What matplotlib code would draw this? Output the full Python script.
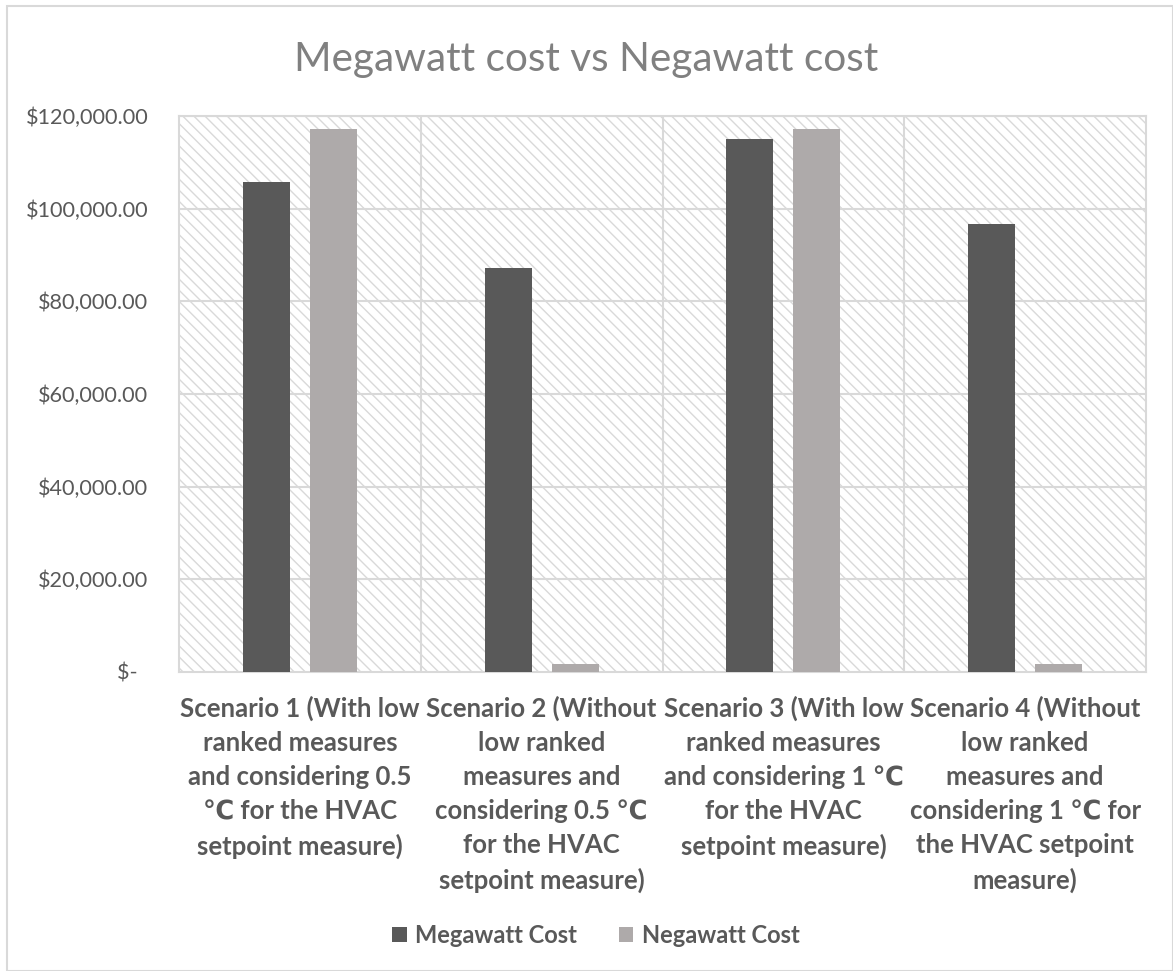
import numpy as np
import matplotlib
matplotlib.use("Agg")
import matplotlib.pyplot as plt
from matplotlib.patches import Rectangle

# chart data
scenarios = [
    "Scenario 1 (With low\nranked measures\nand considering 0.5\n\u2103 for the HVAC\nsetpoint measure)",
    "Scenario 2 (Without\nlow ranked\nmeasures and\nconsidering 0.5 \u2103\nfor the HVAC\nsetpoint measure)",
    "Scenario 3 (With low\nranked measures\nand considering 1 \u2103\nfor the HVAC\nsetpoint measure)",
    "Scenario 4 (Without\nlow ranked\nmeasures and\nconsidering 1 \u2103 for\nthe HVAC setpoint\nmeasure)",
]
megawatt_cost = [105800, 87300, 115100, 96800]
negawatt_cost = [117200, 1700, 117200, 1700]
series_names = ["Megawatt Cost", "Negawatt Cost"]
yticks = [0, 20000, 40000, 60000, 80000, 100000, 120000]

DARK = "#595959"
LIGHT = "#AEAAAA"
GRID = "#D9D9D9"
TEXT = "#595959"

plt.rcParams["font.family"] = ["Lato", "DejaVu Sans"]
plt.rcParams["hatch.color"] = GRID
plt.rcParams["hatch.linewidth"] = 1.0

fig = plt.figure(figsize=(11.73, 9.71), dpi=100)
ax = fig.add_axes([0.1526, 0.308, 0.977 - 0.1526, 0.8805 - 0.308])

# outer chart frame
fig.patches.append(Rectangle((0.006, 0.0), 0.994, 0.994, transform=fig.transFigure,
                             fill=False, edgecolor=GRID, linewidth=1.5))

# hatched plot area
ax.add_patch(Rectangle((0, 0), 1, 1, transform=ax.transAxes, facecolor="white",
                       edgecolor=GRID, hatch="\\\\\\", linewidth=0, zorder=0))

x = np.arange(len(scenarios))
w = 0.195
off = 0.1385
ax.bar(x - off, megawatt_cost, w, color=DARK, label=series_names[0], zorder=3)
ax.bar(x + off, negawatt_cost, w, color=LIGHT, label=series_names[1], zorder=3)

ax.set_xlim(-0.5, len(scenarios) - 0.5)
ax.set_ylim(0, 120000)

# gridlines
for yv in yticks[1:]:
    ax.axhline(yv, color=GRID, lw=1.5, zorder=1)
for xv in x[:-1] + 0.5:
    ax.axvline(xv, color=GRID, lw=1.5, zorder=1)
for s in ax.spines.values():
    s.set_color(GRID)
    s.set_linewidth(1.5)

ax.set_yticks(yticks)
ax.set_yticklabels(["$-  " if v == 0 else f"${v:,.2f}" for v in yticks])
ax.tick_params(axis="y", length=0, pad=22, labelsize=15.6, labelcolor=TEXT)

ax.set_xticks(x)
ax.set_xticklabels(scenarios, fontweight="bold", linespacing=1.5)
ax.tick_params(axis="x", length=0, pad=17, labelsize=18.5, labelcolor=TEXT)

fig.text(0.5, 0.939, "Megawatt cost vs Negawatt cost", ha="center", va="center",
         fontsize=29.2, color="#808080")

leg = fig.legend(loc="center", bbox_to_anchor=(0.508, 0.037), ncol=2, frameon=False,
                 handlelength=0.6, handleheight=0.6, handletextpad=0.35, columnspacing=1.8,
                 prop={"size": 17, "weight": "bold"})
for t in leg.get_texts():
    t.set_color(TEXT)

fig.savefig("out.png", dpi=100)
